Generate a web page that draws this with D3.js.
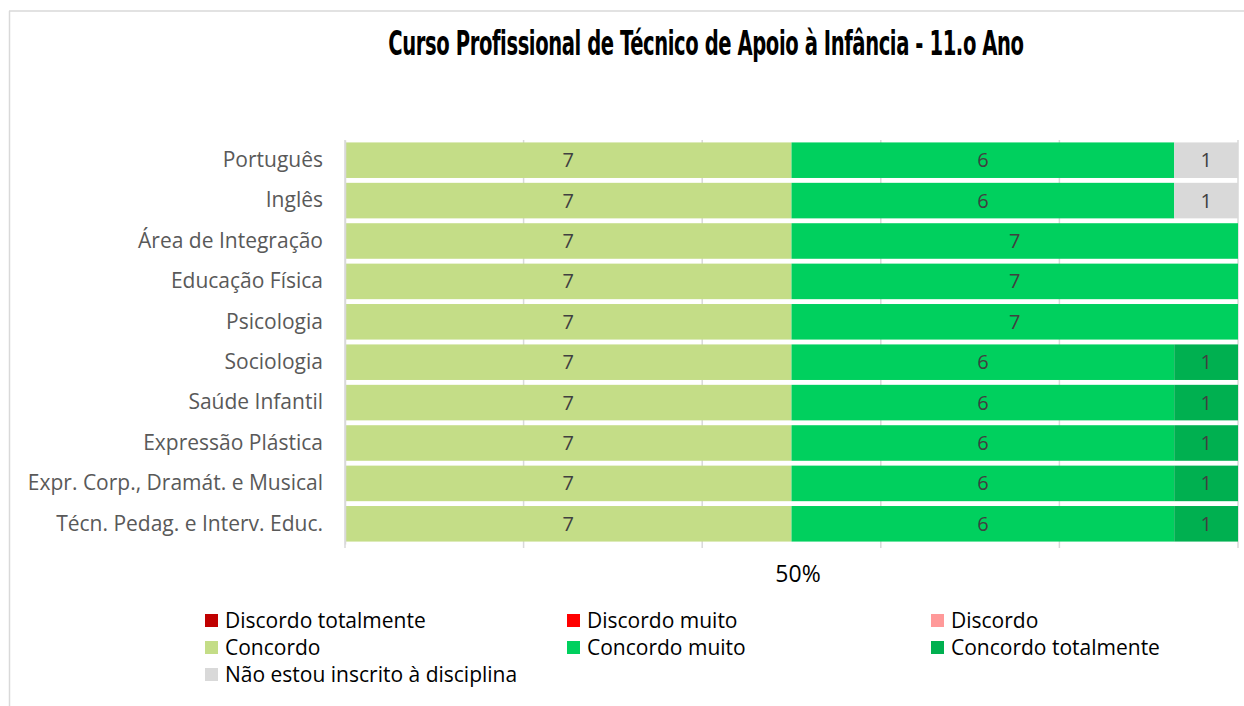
<!DOCTYPE html>
<html>
<head>
<meta charset="utf-8">
<script src="https://cdn.jsdelivr.net/npm/d3@7"></script>
<style>
  body { margin: 0; background: #fff; }
</style>
</head>
<body>
<div id="chart"></div>
<script>
// Data
const categories = ["Português", "Inglês", "Área de Integração", "Educação Física", "Psicologia",
  "Sociologia", "Saúde Infantil", "Expressão Plástica", "Expr. Corp., Dramát. e Musical", "Técn. Pedag. e Interv. Educ."];
const seriesNames = ["Discordo totalmente", "Discordo muito", "Discordo", "Concordo",
  "Concordo muito", "Concordo totalmente", "Não estou inscrito à disciplina"];
const discordoTotalmente = [0, 0, 0, 0, 0, 0, 0, 0, 0, 0];
const discordoMuito      = [0, 0, 0, 0, 0, 0, 0, 0, 0, 0];
const discordo           = [0, 0, 0, 0, 0, 0, 0, 0, 0, 0];
const concordo           = [7, 7, 7, 7, 7, 7, 7, 7, 7, 7];
const concordoMuito      = [6, 6, 7, 7, 7, 6, 6, 6, 6, 6];
const concordoTotalmente = [0, 0, 0, 0, 0, 1, 1, 1, 1, 1];
const naoInscrito        = [1, 1, 0, 0, 0, 0, 0, 0, 0, 0];
const colors = ["#c00000", "#ff0000", "#ff9999", "#c4dd87", "#00d05e", "#00b050", "#d9d9d9"];
const xTicks = [0, 0.2, 0.4, 0.6, 0.8, 1];

const allSeries = [discordoTotalmente, discordoMuito, discordo, concordo, concordoMuito, concordoTotalmente, naoInscrito];
const rows = categories.map((c, i) => {
  const r = { cat: c };
  seriesNames.forEach((s, j) => r[s] = allSeries[j][i]);
  return r;
});

const W = 1244, H = 706;
const svg = d3.select("#chart").append("svg")
  .attr("width", W).attr("height", H);

// chart border (top and left visible)
svg.append("line").attr("x1", 9).attr("x2", W).attr("y1", 11).attr("y2", 11)
  .attr("stroke", "#d9d9d9").attr("stroke-width", 1.5);
svg.append("line").attr("x1", 9.5).attr("x2", 9.5).attr("y1", 11).attr("y2", H)
  .attr("stroke", "#d9d9d9").attr("stroke-width", 1.5);

// Title (condensed by horizontal scaling)
svg.append("text")
  .attr("transform", "translate(706,55) scale(0.68,1.05)")
  .attr("text-anchor", "middle")
  .style("font-family", "'DejaVu Sans Condensed', 'DejaVu Sans', sans-serif")
  .style("font-weight", "bold").style("font-size", "32px").style("fill", "#000")
  .style("letter-spacing", "-0.6px")
  .text("Curso Profissional de Técnico de Apoio à Infância - 11.o Ano");

const x = d3.scaleLinear().domain([0, 1]).range([345, 1238]);
const y = d3.scaleBand().domain(categories).range([140, 544]).paddingInner(0.12).paddingOuter(0.06);

// gridlines
svg.append("g").selectAll("line").data(xTicks).join("line")
  .attr("x1", d => x(d)).attr("x2", d => x(d))
  .attr("y1", 140).attr("y2", 548)
  .attr("stroke", "#d9d9d9").attr("stroke-width", 1.5);

const stack = d3.stack().keys(seriesNames).offset(d3.stackOffsetExpand);
const stacked = stack(rows);

const layers = svg.append("g").selectAll("g").data(stacked).join("g")
  .attr("fill", (d, i) => colors[i]);

layers.selectAll("rect").data(d => d).join("rect")
  .attr("x", d => x(d[0]))
  .attr("width", d => x(d[1]) - x(d[0]))
  .attr("y", d => y(d.data.cat))
  .attr("height", y.bandwidth());

// value labels
stacked.forEach(layer => {
  svg.append("g").selectAll("text").data(layer.filter(d => d.data[layer.key] > 0)).join("text")
    .attr("x", d => (x(d[0]) + x(d[1])) / 2)
    .attr("y", d => y(d.data.cat) + y.bandwidth() / 2 + 7)
    .attr("text-anchor", "middle")
    .style("font-family", "'Open Sans', sans-serif").style("font-size", "20px")
    .style("fill", "#404040")
    .text(d => d.data[layer.key]);
});

// category axis
const yAxis = svg.append("g").attr("transform", "translate(345,0)")
  .call(d3.axisLeft(y).tickSize(0).tickPadding(22));
yAxis.select(".domain").attr("stroke", "#d9d9d9").attr("stroke-width", 1.5);
yAxis.selectAll("text")
  .style("font-family", "'Open Sans', sans-serif").style("font-size", "21px")
  .style("fill", "#595959");

// axis label
svg.append("text")
  .attr("x", 798).attr("y", 582)
  .attr("text-anchor", "middle")
  .style("font-family", "'Open Sans', sans-serif").style("font-size", "23px")
  .style("fill", "#000")
  .text("50%");

// legend
const legendCols = [205, 567, 931];
const legend = svg.append("g").selectAll("g").data(seriesNames).join("g")
  .attr("transform", (d, i) => `translate(${legendCols[i % 3]},${620 + Math.floor(i / 3) * 27})`);
legend.append("rect")
  .attr("x", 0).attr("y", -6).attr("width", 13).attr("height", 13)
  .attr("fill", (d, i) => colors[i]);
legend.append("text")
  .attr("x", 20).attr("y", 8)
  .style("font-family", "'Open Sans', sans-serif").style("font-size", "21px")
  .style("fill", "#000")
  .text(d => d);
</script>
</body>
</html>
